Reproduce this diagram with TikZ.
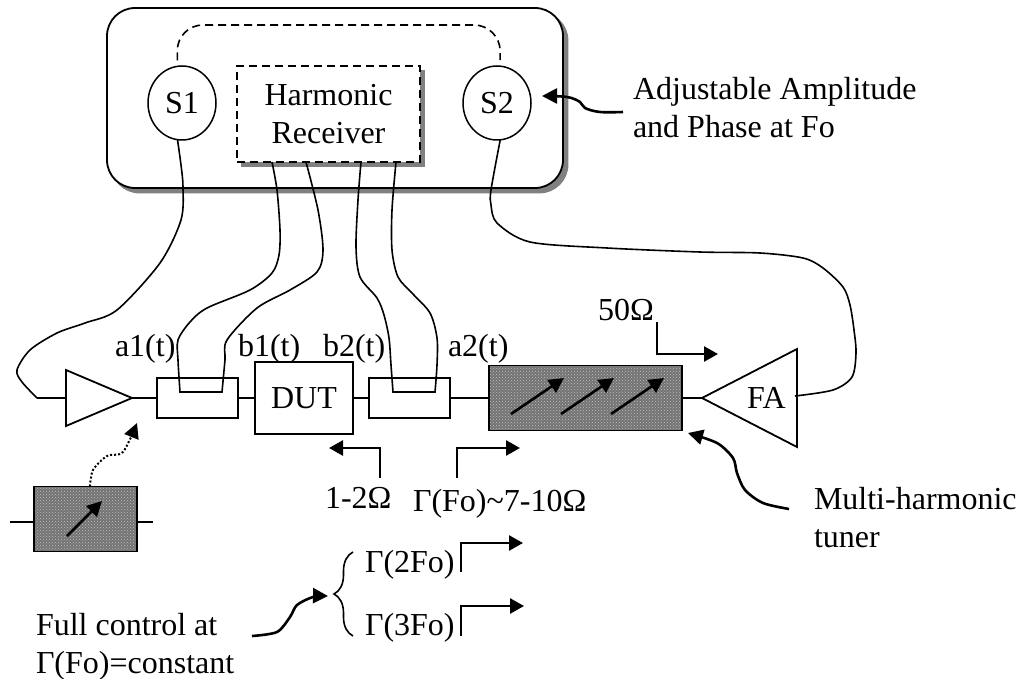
\documentclass[tikz,border=0pt]{standalone}
\usepackage{fontspec}
\setmainfont{Liberation Serif}
\usetikzlibrary{arrows.meta, positioning, shapes.geometric, patterns, shadows, decorations.pathreplacing}
\tikzset{
  blk/.style ={rectangle, draw, line width=1.8pt, inner sep=0pt, outer sep=0pt, fill=white},
  src/.style ={ellipse, draw, line width=1.5pt, inner sep=0pt, outer sep=0pt, minimum width=68pt, minimum height=74pt},
  tun/.style ={blk, preaction={fill=black!55}, pattern=crosshatch dots, pattern color=white!75!black},
  tri/.style ={isosceles triangle, isosceles triangle stretches, draw, line width=1.8pt, inner sep=0pt, outer sep=0pt},
  shd/.style ={copy shadow={shadow xshift=4.5pt, shadow yshift=-4.5pt, draw=black!50, fill=black!50, solid}},
  dsh/.style ={dash pattern=on 8pt off 5pt},
  lbl/.style ={font=\fontsize{32}{38}\selectfont, inner sep=0pt, outer sep=0pt},
  wire/.style={line width=1.6pt},
  fl/.style  ={line width=2.6pt, -{Triangle[length=15pt,width=15pt]}},
  fl2/.style ={line width=2.6pt, -{Triangle[length=14pt,width=15pt]}},
}
\begin{document}
\begin{tikzpicture}[x=1pt, y=-1pt]
  \useasboundingbox (0,0) rectangle (1020,679);
  % generator rack
  \node[blk, shd, rounded corners=28pt, minimum width=456pt, minimum height=180pt, anchor=north west] (rack) at (107,8) {};
  \node[src, lbl] (s1) at (182,103) {S1};
  \node[src, lbl] (s2) at (497,103) {S2};
  \node[blk, shd, dsh, lbl, align=center, minimum width=183pt, minimum height=96pt] (recv) at (328.5,114) {Harmonic\\Receiver};
  \coordinate (loopL) at (177,25);
  \coordinate (loopR) at (500,25);
  \draw[wire, dsh, rounded corners=26pt, shorten <=6pt, shorten >=6pt] (s1.97) -- (loopL) -- (loopR) -- (s2.85);

  % measurement line
  \node[blk, minimum width=81pt, minimum height=40pt] (coupA) at (197.5,398) {};
  \node[blk, lbl, minimum width=98pt, minimum height=72pt, right=17pt of coupA] (dut) {DUT};
  \node[blk, minimum width=81pt, minimum height=40pt, right=16pt of dut] (coupB) {};
  \node[tun, minimum width=193pt, minimum height=65pt, right=39pt of coupB] (tuner) {};
  \node[tri, minimum width=56pt, minimum height=66pt, anchor=apex] (amp) at (132,398) {};
  \node[tri, lbl, shape border rotate=180, minimum width=98pt, minimum height=95pt, anchor=apex] (fa) at (702,398) {FA};
  \coordinate (inL) at (37,398);
  \draw[wire] (inL) -- (amp.lower side);
  \draw[wire] (amp.apex) -- (coupA);
  \draw[wire] (coupA) -- (dut);
  \draw[wire] (dut) -- (coupB);
  \draw[wire] (coupB) -- (tuner);
  \draw[wire] (tuner) -- (fa.apex);
  \foreach \i/\xa in {a/511, b/561, c/611} {
    \coordinate (tune\i) at (\xa,414);
    \draw[fl] (tune\i) -- ++(53,-36);
  }

  % cables
  \draw[wire] plot[smooth] coordinates {(s1.263) (181,165) (183,187) (181,220) (160,263) (117,310) (85,323) (57,333) (30,350) (17,370) (22,382) (inL)};
  \draw[wire] plot[smooth] coordinates {(272,162) (277,190) (280,230) (279,255) (272,273) (250,290) (207,308) (190,322) (178,340) (178,360) (180,392)}
    -- plot[smooth] coordinates {(222,392) (225,360) (227,340) (257,308) (290,290) (317,272) (323,250) (318,210) (306,162)};
  \draw[wire] plot[smooth] coordinates {(361,162) (358,200) (356,247) (360,277) (377,298) (384,315) (389,338) (391,365) (393,392)}
    -- plot[smooth] coordinates {(435,392) (437,365) (437,338) (430,313) (412,293) (398,277) (392,250) (392,210) (396,162)};
  \draw[wire] plot[smooth] coordinates {(s2.275) (491,190) (491,205) (497,223) (530,242) (607,248) (700,252) (760,253) (803,258) (823,268) (843,287) (850,305) (854,330) (856,353) (852,377) (833,390) (795,396)};

  % signal labels
  \node[lbl, anchor=base west] (a1) at (115,356) {a1(t)};
  \node[lbl, anchor=base west] (b1) at (238,356) {b1(t)};
  \node[lbl, anchor=base west] (b2) at (323,356) {b2(t)};
  \node[lbl, anchor=base west] (a2) at (448,356) {a2(t)};
  \node[lbl, anchor=base west] (zo) at (598,320) {50Ω};
  \node[lbl, anchor=base west] (zl) at (325,508) {1-2Ω};
  \node[lbl, anchor=base west] (zs) at (413,511) {Γ(Fo)\char`\~7-10Ω};
  \coordinate (zoS) at (657,322);
  \coordinate (zoE) at (718,354);
  \coordinate (zlS) at (380,478);
  \coordinate (zlE) at (329,448);
  \coordinate (zsS) at (457,478);
  \coordinate (zsE) at (520,448);
  \draw[fl2] (zoS) |- (zoE);
  \draw[fl2] (zlS) |- (zlE);
  \draw[fl2] (zsS) |- (zsE);

  % side notes
  \node[lbl, align=left, anchor=west] (noteA) at (633,108) {Adjustable Amplitude\\and Phase at Fo};
  \coordinate (noteAs) at (623,112);
  \draw[fl] plot[smooth, tension=.6] coordinates {(noteAs) (600,112) (585,108) (580,102) (567,97) (542,96)};
  \node[lbl, align=left, anchor=west] (noteM) at (814,518) {Multi-harmonic\\tuner};
  \coordinate (noteMs) at (789,509);
  \draw[fl] plot[smooth] coordinates {(noteMs) (763,503) (745,490) (737,473) (733,458) (717,443) (688,433)};

  % bias tuner
  \node[tun, minimum width=103pt, minimum height=65pt] (bias) at (85.5,519) {};
  \coordinate (biasL) at (10,522);
  \coordinate (biasR) at (153,522);
  \draw[wire] (biasL) -- (bias.west |- biasL);
  \draw[wire] (bias.east |- biasR) -- (biasR);
  \coordinate (biasA) at (67,536);
  \draw[fl] (biasA) -- ++(35,-35);
  \draw[line width=2pt, dotted, -{Triangle[length=15pt,width=15pt]}] plot[smooth] coordinates {(bias.north -| 90,486) (93,470) (107,456) (123,452) (137,423)};

  % harmonics
  \node[lbl, align=left, anchor=west] (noteF) at (36,647) {Full control at\\Γ(Fo)=constant};
  \coordinate (noteFs) at (252,636);
  \draw[fl] plot[smooth] coordinates {(noteFs) (277,632) (290,617) (297,605) (313,597) (328,596)};
  \coordinate (brB) at (353,636);
  \coordinate (brT) at (353,552);
  \draw[wire, decorate, decoration={brace, amplitude=19pt}] (brB) -- (brT);
  \node[lbl, anchor=base west] (g2) at (365,572) {Γ(2Fo)};
  \node[lbl, anchor=base west] (g3) at (365,635) {Γ(3Fo)};
  \coordinate (g2S) at (461,572);
  \coordinate (g2E) at (523,543);
  \coordinate (g3S) at (461,636);
  \coordinate (g3E) at (524,606);
  \draw[fl2] (g2S) |- (g2E);
  \draw[fl2] (g3S) |- (g3E);
\end{tikzpicture}
\end{document}
